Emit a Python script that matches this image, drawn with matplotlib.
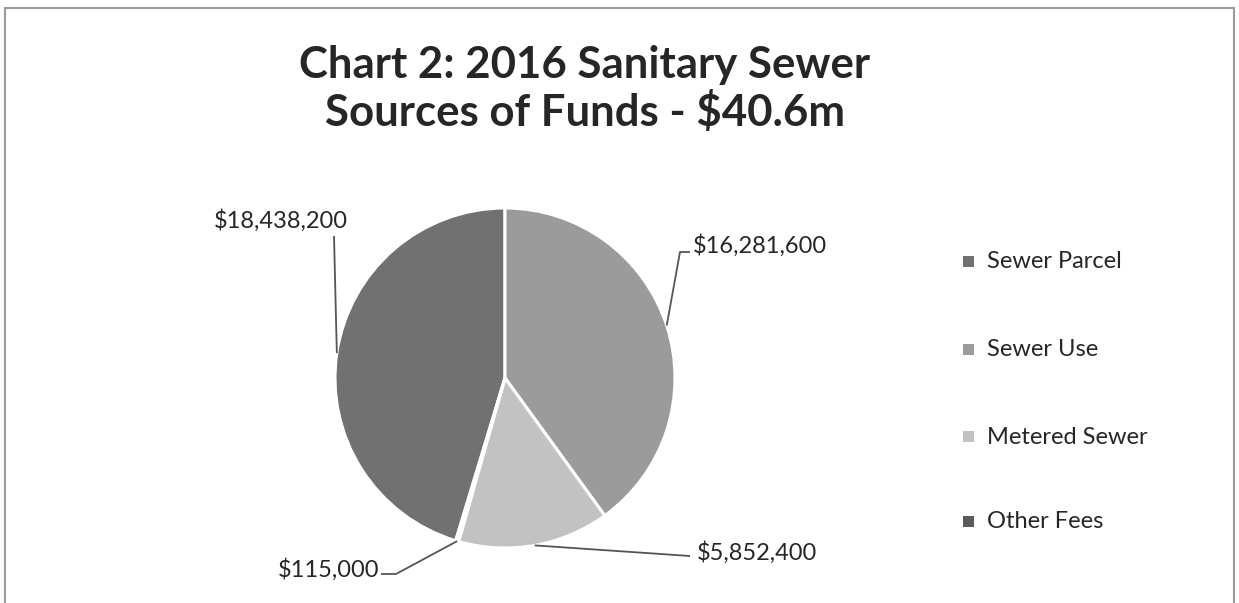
import numpy as np
import matplotlib
matplotlib.use("Agg")
import matplotlib.pyplot as plt
from matplotlib.patches import Rectangle

categories = ["Sewer Parcel", "Sewer Use", "Metered Sewer", "Other Fees"]
values = [18438200, 16281600, 5852400, 115000]
value_labels = ["$18,438,200", "$16,281,600", "$5,852,400", "$115,000"]
colors = ["#717171", "#9b9b9b", "#c2c2c2", "#5a5a5a"]
title = "Chart 2: 2016 Sanitary Sewer\nSources of Funds - $40.6m"

W, H = 1239, 603
fig = plt.figure(figsize=(W / 100, H / 100), dpi=100)
fig.patch.set_facecolor("white")

FONT = ["Lato", "DejaVu Sans"]
TXT = "#262626"

# chart border
fig.add_artist(Rectangle((5 / W, -0.05), (1234 - 5) / W, (H - 8) / H + 0.05,
                         transform=fig.transFigure, fill=False,
                         edgecolor="#9a9a9a", lw=1.5))

# pie axes (center px (505,378), radius 170 px)
cx, cy, R = 505, 378, 170
ax = fig.add_axes([(cx - R) / W, (H - cy - R) / H, 2 * R / W, 2 * R / H])
total = sum(values)
start = 90 + 360 * values[0] / total
wedges, _ = ax.pie(values, colors=colors, startangle=start, counterclock=False,
                   radius=1.0,
                   wedgeprops=dict(edgecolor="white", linewidth=2.2))
ax.set_xlim(-1, 1)
ax.set_ylim(-1, 1)
ax.set_aspect("equal")
ax.axis("off")

def px(x, y):
    return ((x - cx) / R, (cy - y) / R)

# label text positions (px) and leader bends (px)
text_pos = [(281, 221, "center"), (693, 246, "left"), (697, 553, "left"), (379, 570, "right")]
bends = [[(334, 236)], [(680, 252), (690, 252)], [(690, 556)], [(396, 574), (381, 574)]]

for w, lab, tp, bd in zip(wedges, value_labels, text_pos, bends):
    mid = np.deg2rad((w.theta1 + w.theta2) / 2)
    pts = [(np.cos(mid), np.sin(mid))] + [px(*b) for b in bd]
    xs, ys = zip(*pts)
    ax.plot(xs, ys, color="#555555", lw=1.3, clip_on=False, solid_capstyle="butt")
    tx, ty = px(tp[0], tp[1])
    ax.text(tx, ty, lab, ha=tp[2], va="center", fontsize=17, color=TXT,
            family=FONT, clip_on=False)

# title
fig.text(585 / W, 1 - 89 / H, title, ha="center", va="center", fontsize=31.5,
         fontweight="bold", color=TXT, family=FONT, linespacing=1.15)

# legend
rows = [262, 350, 437, 522]
for c, name, ry in zip(colors, categories, rows):
    fig.add_artist(Rectangle((963 / W, 1 - (ry + 5) / H), 11 / W, 11 / H,
                             transform=fig.transFigure, facecolor=c, edgecolor="none"))
    fig.text(987 / W, 1 - ry / H, name, ha="left", va="center", fontsize=17,
             color=TXT, family=FONT)

fig.savefig("out.png", dpi=100)
